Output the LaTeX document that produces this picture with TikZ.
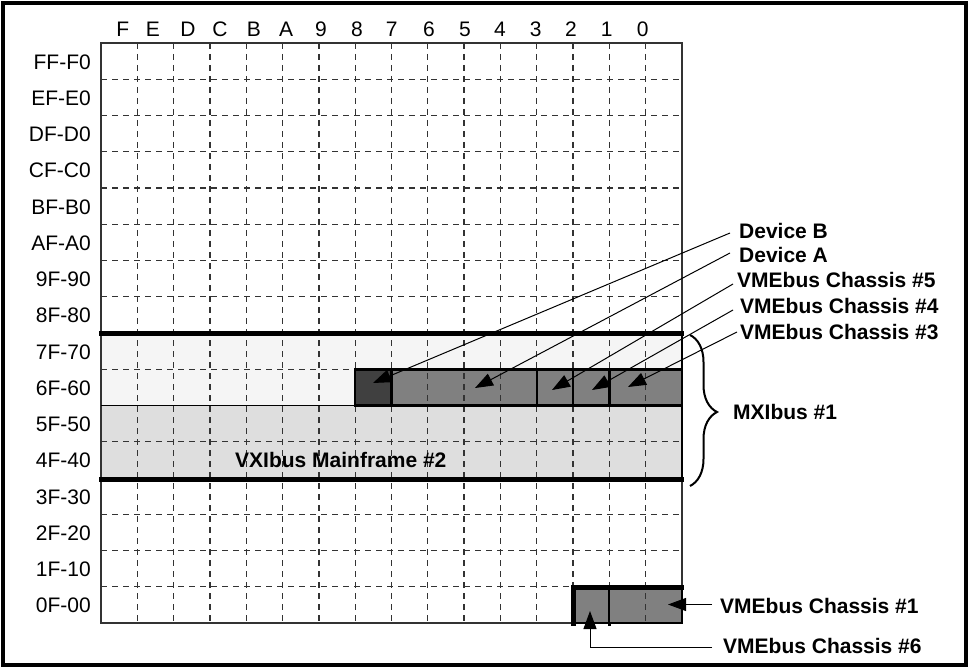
\documentclass[tikz,border=0pt]{standalone}
\usepackage{fontspec}
\setmainfont{Liberation Sans}
\usetikzlibrary{arrows.meta,decorations.pathreplacing}
\definecolor{gridc}{HTML}{333333}
\definecolor{bandlight}{HTML}{F5F5F5}
\definecolor{bandmid}{HTML}{DEDEDE}
\definecolor{boxgray}{HTML}{808080}
\definecolor{boxdark}{HTML}{404040}
\begin{document}
\begin{tikzpicture}[x=1pt,y=-1pt,
  lab/.style={font=\fontsize{21}{25}\selectfont, inner sep=0pt},
  blab/.style={font=\fontsize{21}{25}\selectfont\bfseries, inner sep=0pt, anchor=base west},
  gridl/.style={draw=gridc, line width=1.3pt, dash pattern=on 6pt off 5pt},
  boxline/.style={draw=black, line width=2.5pt},
  conn/.style={draw=black, line width=1pt, -{Triangle[length=18pt,width=13pt]}},
  thickbar/.style={draw=black, line width=5pt}]
\useasboundingbox (0,0) rectangle (969,668);
\draw[line width=3.5pt] (3,3) rectangle (966,665);

% bands and box fills
\fill[bandlight] (101,333) rectangle (682,405.5);
\fill[bandmid] (101,405.5) rectangle (682,479);
\fill[boxdark] (355.2,369.25) rectangle (391.5,405.5);
\fill[boxgray] (391.5,369.25) rectangle (682,405.5);
\fill[boxgray] (573.06,587) rectangle (682,623);

% grid
\foreach \k in {1,...,15} {
  \draw[gridl] ({101+\k*36.3125},43) -- ({101+\k*36.3125},623);
  \draw[gridl] (101,{43+\k*36.25}) -- (682,{43+\k*36.25});
}
\draw[gridc, line width=1.5pt] (101,43) rectangle (682,623);

% band borders
\draw[black, line width=1.5pt] (101,405.5) -- (682,405.5);
\draw[black, line width=1.5pt] (682,333) -- (682,479);
\draw[thickbar] (99,333) -- (684,333);
\draw[thickbar] (99,479) -- (684,479);

% boxes in row 6F-60
\coordinate (b8) at (355.2,369.25);
\coordinate (b7) at (391.5,369.25);
\coordinate (b3) at (536.75,369.25);
\coordinate (b2) at (573.06,369.25);
\coordinate (b1) at (609.4,369.25);
\coordinate (bend) at (682,405.5);
\draw[boxline] (b8) rectangle (391.5,405.5);
\draw[boxline] (b7) rectangle (536.75,405.5);
\draw[boxline] (b3) rectangle (573.06,405.5);
\draw[boxline] (b2) rectangle (609.4,405.5);
\draw[boxline] (b1) rectangle (bend);

% boxes in row 0F-00
\draw[black, line width=2pt] (573.06,587) rectangle (609.4,623);
\draw[black, line width=2pt] (609.4,587) rectangle (682,623);
\draw[thickbar] (571,587) -- (684,587);
\draw[thickbar] (573.06,585) -- (573.06,626);
\draw[black, line width=3pt] (609.4,622) -- (609.4,626);

% column labels
\foreach \t/\x in {F/122.7,E/153,D/188,C/220,B/254,A/286,9/321,8/357,7/391.7,6/429,5/465,4/500,3/535.7,2/571,1/606.7,0/642.7}
  \node[lab, anchor=base] (col\t) at (\x,36.5) {\t};

% row labels
\foreach \t [count=\i from 0] in {FF-F0,EF-E0,DF-D0,CF-C0,BF-B0,AF-A0,9F-90,8F-80,7F-70,6F-60,5F-50,4F-40,3F-30,2F-20,1F-10,0F-00}
  \node[lab, anchor=base east] (row\i) at (91,{43+36.25*\i+18.6+7.5}) {\t};

% text labels
\node[blab] (devB) at (739,238.5) {Device B};
\node[blab] (devA) at (739,262.5) {Device A};
\node[blab] (ch5) at (737,287.5) {VMEbus Chassis \#5};
\node[blab] (ch4) at (740,313.5) {VMEbus Chassis \#4};
\node[blab] (ch3) at (740,339.5) {VMEbus Chassis \#3};
\node[blab] (mxi) at (733,419.5) {MXIbus \#1};
\node[blab] (vxi) at (235,467.5) {VXIbus Mainframe \#2};
\node[blab] (ch1) at (720,613.5) {VMEbus Chassis \#1};
\node[blab] (ch6) at (723,653.5) {VMEbus Chassis \#6};

% connector ends
\coordinate (sB) at (730,233);
\coordinate (tB) at (373,383);
\coordinate (sA) at (730,253);
\coordinate (tA) at (475,388);
\coordinate (s5) at (733,284);
\coordinate (t5) at (552,390);
\coordinate (s4) at (733,310);
\coordinate (t4) at (592,390);
\coordinate (s3) at (737,332);
\coordinate (t3) at (628,387);
\coordinate (s1) at (712,604.5);
\coordinate (t1) at (668,604.5);
\coordinate (s6) at (712,647);
\coordinate (k6) at (590,647);
\coordinate (t6) at (590,611);

\draw[conn] (sB) -- (tB);
\draw[conn] (sA) -- (tA);
\draw[conn] (s5) -- (t5);
\draw[conn] (s4) -- (t4);
\draw[conn] (s3) -- (t3);
\draw[conn] (s1) -- (t1);
\draw[conn] (s6) -- (k6) -- (t6);

% brace
\coordinate (brT) at (690,335);
\coordinate (brB) at (690,486);
\draw[black, line width=2pt, decorate, decoration={brace, amplitude=27pt, aspect=0.51}] (brT) -- (brB);
\end{tikzpicture}
\end{document}
